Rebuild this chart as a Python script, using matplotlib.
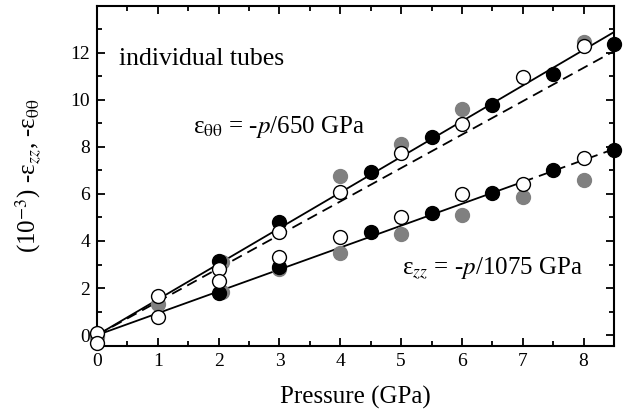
import matplotlib
matplotlib.use("Agg")
import matplotlib.pyplot as plt
import numpy as np
from matplotlib.ticker import MultipleLocator

plt.rcParams['font.family'] = ['Liberation Serif', 'DejaVu Serif']
plt.rcParams['mathtext.fontset'] = 'stix'

# ---- data ----
# circumferential strain  -e_theta_theta (10^-3)
gray_theta_x = [0, 1, 2.05, 4, 5, 6, 8]
gray_theta_y = [0.0, 1.32, 3.1, 6.75, 8.14, 9.59, 12.45]
black_theta_x = [2, 3, 4.5, 5.5, 6.5, 7.5, 8.5]
black_theta_y = [3.14, 4.81, 6.93, 8.42, 9.80, 11.1, 12.38]
open_theta_x = [0, 1, 2, 3, 4, 5, 6, 7, 8]
open_theta_y = [0.07, 1.66, 2.79, 4.39, 6.08, 7.75, 8.96, 10.96, 12.3]

# axial strain  -e_zz (10^-3)
gray_zz_x = [0, 2.05, 3, 4, 5, 6, 7, 8]
gray_zz_y = [-0.1, 1.85, 2.8, 3.48, 4.29, 5.09, 5.87, 6.61]
black_zz_x = [2, 3, 4.5, 5.5, 6.5, 7.5, 8.5]
black_zz_y = [1.80, 2.90, 4.39, 5.19, 6.04, 7.03, 7.85]
open_zz_x = [0, 1, 2, 3, 4, 5, 6, 7, 8]
open_zz_y = [-0.33, 0.78, 2.29, 3.32, 4.15, 5.02, 5.98, 6.41, 7.53]

# fit-line slopes (10^-3 per GPa)
theta_modulus = 660.0      # solid line
theta_dashed_slope = 1.42  # dashed comparison line
zz_modulus = 1075.0
zz_solid_end = 7.0
x_max = 8.5

fig = plt.figure(figsize=(6.26, 4.2), dpi=100)
ax = fig.add_axes([97/626, 1-345.7/420, (614-97)/626, (345.7-5.7)/420])

# lines
xs = np.array([0, x_max])
ax.plot(xs, xs * 1000 / theta_modulus, color='black', lw=1.3, zorder=2)
ax.plot(xs, xs * theta_dashed_slope, color='black', lw=1.3, ls=(0, (6, 3.5)), zorder=2)
xz1 = np.array([0, zz_solid_end])
xz2 = np.array([zz_solid_end, x_max])
ax.plot(xz1, xz1 * 1000 / zz_modulus, color='black', lw=1.3, zorder=2)
ax.plot(xz2, xz2 * 1000 / zz_modulus, color='black', lw=1.3, ls=(0, (6, 3.5)), zorder=2)

ms = 10
kw = dict(ls='none', marker='o', ms=ms, clip_on=False)
gray = '#808080'
ax.plot(gray_theta_x, gray_theta_y, mfc=gray, mec=gray, zorder=3, **kw)
ax.plot(gray_zz_x, gray_zz_y, mfc=gray, mec=gray, zorder=3, **kw)
ax.plot(black_theta_x, black_theta_y, mfc='black', mec='black', zorder=4, **kw)
ax.plot(black_zz_x, black_zz_y, mfc='black', mec='black', zorder=4, **kw)
ax.plot(open_theta_x, open_theta_y, mfc='white', mec='black', mew=1.0, zorder=5, **kw)
ax.plot(open_zz_x, open_zz_y, mfc='white', mec='black', mew=1.0, zorder=5, **kw)

ax.set_xlim(0, x_max)
ax.set_ylim(-0.45, 14)
ax.set_xticks(range(0, 9))
ax.set_yticks(range(0, 13, 2))
ax.xaxis.set_minor_locator(MultipleLocator(0.5))
ax.yaxis.set_minor_locator(MultipleLocator(1))
ax.tick_params(which='both', direction='in', top=True, right=True, width=1.3)
ax.tick_params(which='major', length=5.5, labelsize=14, pad=5)
ax.tick_params(which='minor', length=3.5)
for s in ax.spines.values():
    s.set_linewidth(1.5)

ax.set_xlabel('Pressure (GPa)', fontsize=18, labelpad=12)
ax.set_ylabel(r'(10$^{-3}$) -ε$_{zz}$, -ε$_{\mathrm{θθ}}$', fontsize=18, labelpad=20)

ax.text(0.36, 11.5, 'individual tubes', fontsize=18.5, ha='left', va='baseline')
ax.text(1.58, 8.6, r'ε$_{\mathrm{θθ}}$ = -$p$/650 GPa', fontsize=18, ha='left', va='baseline')
ax.text(5.01, 2.59, r'ε$_{zz}$ = -$p$/1075 GPa', fontsize=18, ha='left', va='baseline')

fig.savefig('out.png', dpi=100)
